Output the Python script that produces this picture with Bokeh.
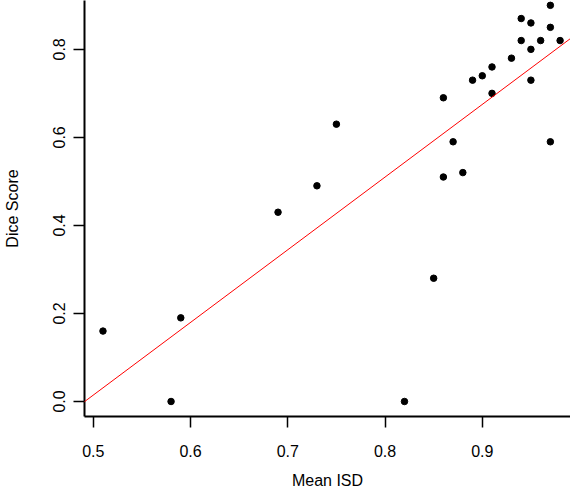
from bokeh.plotting import figure
from bokeh.models import Range1d, Slope, FixedTicker
from bokeh.embed import file_html
from bokeh.resources import INLINE

# Data
mean_isd = [0.51, 0.59, 0.58, 0.69, 0.73, 0.75, 0.82, 0.85, 0.86, 0.86, 0.87, 0.88,
            0.89, 0.90, 0.91, 0.91, 0.93, 0.94, 0.94, 0.95, 0.95, 0.95, 0.96, 0.97,
            0.97, 0.97, 0.98]
dice_score = [0.16, 0.19, 0.00, 0.43, 0.49, 0.63, 0.00, 0.28, 0.69, 0.51, 0.59, 0.52,
              0.73, 0.74, 0.70, 0.76, 0.78, 0.87, 0.82, 0.86, 0.80, 0.73, 0.82, 0.90,
              0.85, 0.59, 0.82]

fit_intercept = -0.811
fit_slope = 1.651

x_ticks = [0.5, 0.6, 0.7, 0.8, 0.9]
x_tick_labels = ["0.5", "0.6", "0.7", "0.8", "0.9"]
y_ticks = [0.0, 0.2, 0.4, 0.6, 0.8]
y_tick_labels = ["0.0", "0.2", "0.4", "0.6", "0.8"]

FONT = "Liberation Sans"

p = figure(width=570, height=492, output_backend="svg", toolbar_location=None,
           x_range=Range1d(0.491, 0.9907), y_range=Range1d(-0.0341, 0.911),
           min_border_left=84, min_border_right=0, min_border_top=0,
           min_border_bottom=76)
p.outline_line_color = None
p.xgrid.grid_line_color = None
p.ygrid.grid_line_color = None
p.background_fill_color = "white"
p.border_fill_color = "white"

p.scatter(mean_isd, dice_score, size=6.5, color="black")
p.add_layout(Slope(gradient=fit_slope, y_intercept=fit_intercept,
                   line_color="red", line_width=1))

for ax, ticks, labels in ((p.xaxis[0], x_ticks, x_tick_labels),
                          (p.yaxis[0], y_ticks, y_tick_labels)):
    ax.ticker = FixedTicker(ticks=ticks)
    ax.major_label_overrides = {t: l for t, l in zip(ticks, labels)}
    ax.axis_line_width = 2
    ax.axis_line_color = "black"
    ax.major_tick_line_width = 1.5
    ax.major_tick_line_color = "black"
    ax.major_tick_out = 11
    ax.major_tick_in = 0
    ax.minor_tick_line_color = None
    ax.major_label_text_font = FONT
    ax.major_label_text_font_size = "16px"
    ax.major_label_text_color = "black"
    ax.axis_label_text_font = FONT
    ax.axis_label_text_font_size = "16px"
    ax.axis_label_text_font_style = "normal"
    ax.axis_label_text_color = "black"

p.xaxis.axis_label = "Mean ISD"
p.yaxis.axis_label = "Dice Score"
p.xaxis.major_label_standoff = 17
p.xaxis.axis_label_standoff = 12
p.yaxis.major_label_standoff = 8
p.yaxis.major_label_orientation = "vertical"
p.yaxis.axis_label_standoff = 30

open("out.html", "w").write(file_html(p, INLINE))
